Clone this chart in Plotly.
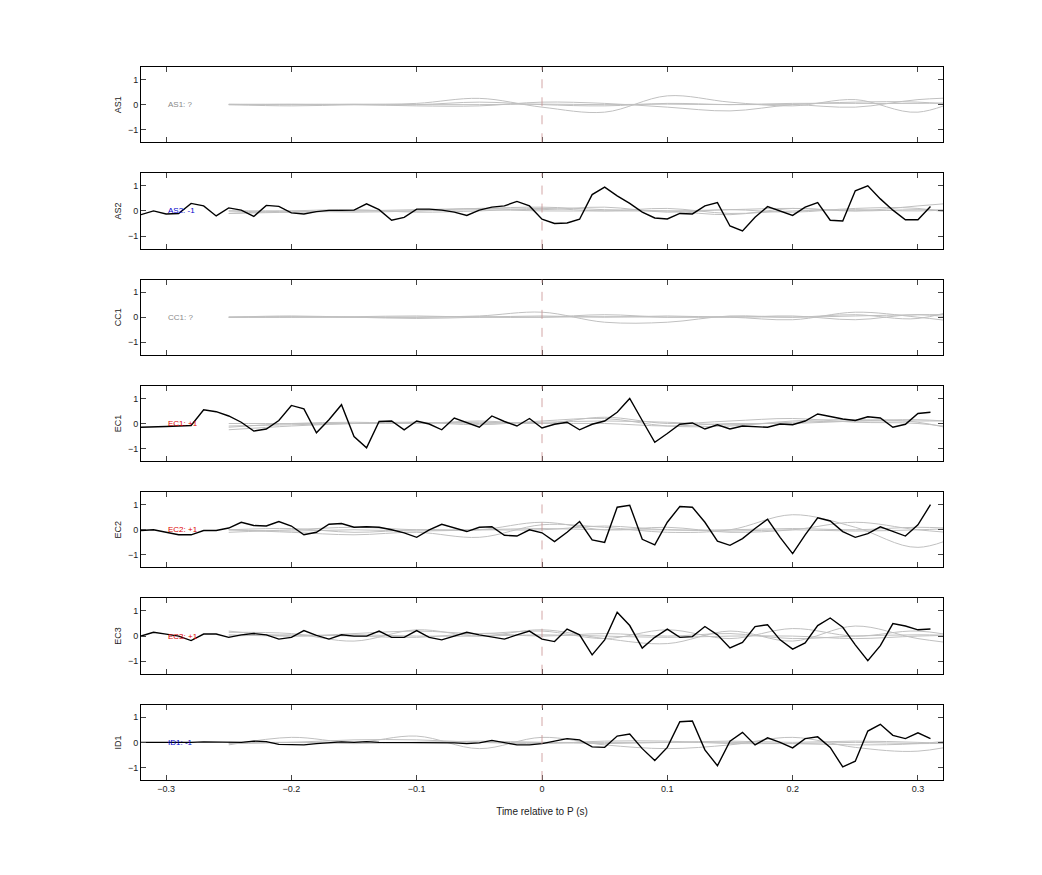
import numpy as np
import plotly.graph_objects as go
from plotly.subplots import make_subplots

stations = ["AS1", "AS2", "CC1", "EC1", "EC2", "EC3", "ID1"]
polarity = ["?", "-1", "?", "+1", "+1", "+1", "-1"]
label_colors = {"?": "#888888", "-1": "#0000cc", "+1": "#dd0000"}

t_obs = np.round(np.arange(-0.32, 0.315, 0.01), 2)
t_syn = [-0.25, -0.2, -0.15, -0.1, -0.05, 0.0, 0.05, 0.1, 0.15, 0.2, 0.25, 0.3, 0.35]

obs = {
    "AS2": [-0.15, 0.0, -0.12, -0.1, 0.3, 0.2, -0.2, 0.12, 0.03, -0.22, 0.22, 0.18, -0.08, -0.12, -0.03, 0.02,
            0.02, 0.03, 0.28, 0.05, -0.37, -0.26, 0.07, 0.07, 0.03, -0.05, -0.18, 0.03, 0.15, 0.2, 0.38, 0.2,
            -0.33, -0.5, -0.48, -0.33, 0.65, 0.95, 0.6, 0.3, -0.05, -0.28, -0.32, -0.1, -0.12, 0.2, 0.33, -0.6,
            -0.8, -0.25, 0.17, 0.0, -0.18, 0.15, 0.33, -0.37, -0.4, 0.8, 1.0, 0.48, 0.03, -0.35, -0.35, 0.18],
    "EC1": [-0.15, -0.15, -0.12, -0.1, -0.08, 0.55, 0.47, 0.3, 0.05, -0.3, -0.22, 0.12, 0.72, 0.58, -0.37, 0.15,
            0.75, -0.52, -0.97, 0.08, 0.1, -0.25, 0.1, -0.02, -0.25, 0.22, 0.05, -0.15, 0.3, 0.08, -0.1, 0.2,
            -0.18, -0.03, 0.05, -0.25, -0.03, 0.1, 0.45, 1.0, 0.12, -0.75, -0.4, -0.03, 0.02, -0.22, -0.05, -0.22,
            -0.1, -0.13, -0.15, -0.02, -0.05, 0.1, 0.38, 0.28, 0.18, 0.12, 0.27, 0.22, -0.15, -0.03, 0.4, 0.45],
    "EC2": [-0.03, 0.0, -0.1, -0.2, -0.2, -0.03, -0.03, 0.07, 0.3, 0.17, 0.15, 0.33, 0.15, -0.2, -0.1, 0.22,
            0.25, 0.1, 0.12, 0.1, 0.0, -0.12, -0.3, 0.0, 0.22, 0.08, -0.07, 0.1, 0.12, -0.22, -0.25, 0.0,
            -0.12, -0.47, -0.1, 0.33, -0.4, -0.5, 0.9, 0.98, -0.38, -0.6, 0.3, 0.93, 0.9, 0.3, -0.45, -0.62,
            -0.35, 0.05, 0.42, -0.3, -0.95, -0.2, 0.48, 0.35, -0.07, -0.3, -0.15, 0.12, -0.08, -0.25, 0.2, 1.0],
    "EC3": [0.0, 0.15, 0.08, 0.0, -0.18, 0.08, 0.08, -0.05, 0.05, 0.1, 0.05, -0.12, -0.05, 0.22, 0.03, -0.12,
            0.05, 0.0, 0.0, 0.2, -0.05, -0.05, 0.22, -0.05, -0.15, 0.0, 0.15, 0.05, -0.03, -0.12, 0.05, 0.2,
            -0.12, -0.22, 0.28, 0.05, -0.75, -0.15, 0.95, 0.42, -0.48, -0.05, 0.28, -0.05, -0.02, 0.38, 0.05, -0.47,
            -0.25, 0.38, 0.45, -0.15, -0.52, -0.27, 0.42, 0.72, 0.35, -0.35, -0.98, -0.38, 0.5, 0.4, 0.25, 0.28],
    "ID1": [0.0, 0.0, 0.0, -0.02, 0.0, 0.02, 0.02, 0.02, 0.0, 0.05, 0.03, -0.08, -0.1, -0.1, -0.05, 0.0,
            0.02, 0.0, 0.03, 0.0, 0.0, -0.02, 0.0, -0.03, -0.03, -0.02, -0.05, -0.02, 0.08, 0.0, -0.1, -0.1,
            -0.05, 0.05, 0.15, 0.1, -0.18, -0.2, 0.25, 0.33, -0.25, -0.72, -0.2, 0.82, 0.85, -0.3, -0.93, 0.05,
            0.4, -0.1, 0.18, 0.0, -0.22, 0.15, 0.22, -0.2, -0.98, -0.75, 0.45, 0.72, 0.28, 0.15, 0.38, 0.15],
}

syn = {
    "AS1": [[0.0, -0.05, 0.0, 0.05, 0.25, -0.1, -0.3, 0.35, 0.1, -0.05, 0.2, -0.3, 0.6],
            [0.02, 0.0, 0.0, -0.05, -0.05, 0.1, 0.05, -0.1, -0.25, 0.0, 0.1, 0.1, -0.1],
            [0.0, 0.02, 0.0, 0.0, 0.1, 0.0, -0.05, 0.05, 0.0, 0.0, -0.1, 0.2, 0.3],
            [0.0, 0.0, 0.02, 0.0, 0.0, 0.02, 0.0, 0.02, 0.0, 0.05, 0.05, 0.05, 0.1]],
    "AS2": [[-0.1, -0.05, 0.0, 0.05, 0.1, 0.15, 0.05, 0.0, -0.15, 0.1, 0.0, 0.2, 0.4],
            [0.0, 0.0, -0.05, 0.0, 0.1, 0.05, 0.15, -0.05, 0.05, -0.05, 0.1, 0.1, -0.3],
            [-0.1, 0.0, 0.05, -0.05, 0.0, 0.1, 0.0, 0.1, -0.1, 0.0, 0.05, 0.0, 0.1],
            [0.0, -0.05, 0.0, 0.0, 0.05, 0.0, 0.0, 0.0, 0.05, 0.1, 0.0, 0.05, 0.0]],
    "CC1": [[0.0, 0.02, 0.0, 0.0, 0.05, 0.2, -0.2, -0.2, 0.05, 0.0, 0.1, -0.05, 0.6],
            [0.0, 0.0, 0.02, 0.05, 0.0, 0.0, 0.1, 0.0, 0.0, -0.1, 0.2, 0.0, -0.3],
            [0.0, 0.05, 0.0, -0.05, 0.0, 0.05, 0.0, 0.05, 0.0, 0.05, -0.1, 0.1, -0.15],
            [0.0, 0.0, 0.0, 0.0, 0.02, 0.0, 0.02, 0.0, 0.02, 0.0, 0.05, 0.1, 0.1]],
    "EC1": [[-0.25, -0.1, 0.0, 0.05, -0.05, 0.1, 0.2, -0.1, -0.1, 0.1, 0.15, 0.05, -0.5],
            [-0.15, 0.0, 0.05, 0.0, 0.1, 0.0, 0.25, 0.0, 0.1, 0.2, 0.05, 0.0, -0.3],
            [0.0, 0.0, 0.0, 0.05, 0.0, 0.05, 0.1, 0.05, -0.05, 0.05, 0.1, 0.1, 0.1],
            [-0.1, -0.05, 0.0, 0.0, 0.05, 0.0, 0.0, -0.1, 0.0, 0.0, 0.1, 0.15, 0.0]],
    "EC2": [[0.0, -0.1, -0.2, -0.1, -0.3, 0.2, 0.1, -0.1, 0.0, 0.6, 0.1, -0.7, 0.2],
            [0.0, 0.05, -0.1, 0.0, 0.0, 0.3, 0.0, 0.1, -0.1, 0.0, 0.3, 0.0, -0.2],
            [-0.1, 0.0, 0.1, 0.0, 0.0, 0.0, 0.15, 0.0, 0.0, 0.05, 0.0, 0.1, 0.0],
            [0.0, -0.05, 0.0, -0.05, 0.0, 0.05, 0.0, 0.0, -0.05, 0.0, -0.05, 0.0, 0.1]],
    "EC3": [[0.15, 0.1, -0.2, 0.25, 0.0, 0.25, -0.1, -0.3, 0.2, -0.2, 0.4, -0.1, -0.4],
            [0.2, 0.0, 0.1, 0.2, 0.1, 0.2, -0.1, 0.25, -0.1, 0.3, 0.0, 0.2, -0.2],
            [0.0, 0.05, 0.0, -0.05, 0.1, 0.0, 0.1, 0.0, 0.1, -0.1, 0.0, 0.05, 0.0],
            [0.05, 0.0, 0.05, 0.0, 0.0, 0.05, 0.0, -0.05, 0.0, 0.0, -0.1, 0.0, 0.05]],
    "ID1": [[-0.1, 0.2, 0.0, 0.25, -0.25, 0.2, -0.1, -0.25, -0.1, 0.2, -0.2, -0.35, 0.1],
            [-0.05, 0.0, 0.1, 0.1, 0.0, -0.05, 0.05, 0.05, -0.05, -0.05, -0.1, -0.05, 0.2],
            [0.0, 0.0, 0.0, 0.0, 0.05, 0.0, 0.0, 0.0, 0.05, 0.0, 0.05, 0.0, -0.1],
            [-0.05, 0.0, -0.05, 0.0, 0.0, 0.0, -0.05, 0.0, 0.0, -0.05, 0.0, -0.05, 0.0]],
}

n = len(stations)
fig = make_subplots(rows=n, cols=1, shared_xaxes=True, vertical_spacing=0.0435)

for i, st in enumerate(stations):
    r = i + 1
    for curve in syn[st]:
        fig.add_trace(go.Scatter(x=t_syn, y=curve, mode="lines", line=dict(color="#c0c0c0", width=1, shape="spline"),
                                 showlegend=False, hoverinfo="skip"), row=r, col=1)
    if st in obs:
        fig.add_trace(go.Scatter(x=t_obs, y=obs[st], mode="lines", line=dict(color="black", width=1.4),
                                 showlegend=False), row=r, col=1)
    fig.add_vline(x=0, line=dict(color="#c89090", width=0.8, dash="dash"), row=r, col=1)
    fig.add_annotation(x=-0.3, y=0, text=f"{st}: {polarity[i]}", showarrow=False, xanchor="left",
                       font=dict(size=8, color=label_colors[polarity[i]]), row=r, col=1)
    fig.update_yaxes(title_text=st, title_font=dict(size=9), title_standoff=4, row=r, col=1)

fig.update_xaxes(range=[-0.32, 0.32], tickvals=[-0.3, -0.2, -0.1, 0, 0.1, 0.2, 0.3],
                 ticks="inside", ticklen=5, mirror="ticks", showline=True, linecolor="black",
                 linewidth=1, showgrid=False, zeroline=False, tickfont=dict(size=9))
fig.update_xaxes(title_text="Time relative to P (s)", title_font=dict(size=10), row=n, col=1)
fig.update_yaxes(range=[-1.5, 1.5], tickvals=[-1, 0, 1], ticks="inside", ticklen=5, mirror="ticks",
                 showline=True, linecolor="black", linewidth=1, showgrid=False, zeroline=False,
                 tickfont=dict(size=9))

fig.update_layout(width=1042, height=875, margin=dict(l=133, r=107, t=59, b=103),
                  paper_bgcolor="white", plot_bgcolor="white",
                  font=dict(family="Liberation Sans, Arial", color="#222222"))

fig.write_html("out.html")
